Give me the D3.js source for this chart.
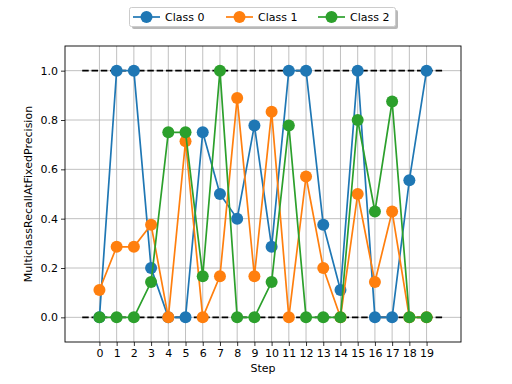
<!DOCTYPE html>
<html><head><meta charset="utf-8">
<script src="https://cdn.jsdelivr.net/npm/d3@7"></script>
<style>body{margin:0;background:#fff}svg{display:block;font-family:"DejaVu Sans",sans-serif}</style>
</head><body><svg id="c" width="512" height="384"></svg>
<script>
const steps = d3.range(0, 20);
const seriesNames = ["Class 0", "Class 1", "Class 2"];
const colors = ["#1f77b4", "#ff7f0e", "#2ca02c"];
const class0 = [0, 1, 1, 0.2, 0, 0, 0.75, 0.5, 0.4, 0.778, 0.286, 1, 1, 0.375, 0.111, 1, 0, 0, 0.556, 1];
const class1 = [0.111, 0.286, 0.286, 0.375, 0, 0.714, 0, 0.167, 0.889, 0.167, 0.833, 0, 0.571, 0.2, 0, 0.5, 0.143, 0.429, 0, 0];
const class2 = [0, 0, 0, 0.143, 0.75, 0.75, 0.167, 1, 0, 0, 0.143, 0.778, 0, 0, 0, 0.8, 0.429, 0.875, 0, 0];
const yTicks = [0, 0.2, 0.4, 0.6, 0.8, 1.0];
const refLines = [0, 1];
const allSeries = [class0, class1, class2];

const svg = d3.select("#c");
const L = 65, R = 461, T = 46, B = 342;
const x = d3.scaleLinear().domain([-2, 21]).range([L, R]);
const y = d3.scaleLinear().domain([-0.1, 1.1]).range([B, T]);

// grid
const g = svg.append("g");
g.selectAll(".vx").data(steps).enter().append("line")
  .attr("x1", d => x(d)).attr("x2", d => x(d)).attr("y1", T).attr("y2", B)
  .attr("stroke", "#b0b0b0").attr("stroke-width", 0.8);
g.selectAll(".hy").data(yTicks).enter().append("line")
  .attr("y1", d => y(d)).attr("y2", d => y(d)).attr("x1", L).attr("x2", R)
  .attr("stroke", "#b0b0b0").attr("stroke-width", 0.8);

// reference dashed lines
svg.selectAll(".ref").data(refLines).enter().append("line")
  .attr("x1", x(-1)).attr("x2", x(20)).attr("y1", d => y(d)).attr("y2", d => y(d))
  .attr("stroke", "#000").attr("stroke-width", 1.7).attr("stroke-dasharray", "6.5,2.8");

// series
allSeries.forEach((s, i) => {
  const line = d3.line().x((d, j) => x(steps[j])).y(d => y(d));
  svg.append("path").datum(s).attr("d", line).attr("fill", "none")
    .attr("stroke", colors[i]).attr("stroke-width", 1.7);
  svg.selectAll(".m" + i).data(s).enter().append("circle")
    .attr("cx", (d, j) => x(steps[j])).attr("cy", d => y(d)).attr("r", 6)
    .attr("fill", colors[i]);
});

// axes
const xAxis = d3.axisBottom(x).tickValues(steps).tickSize(4).tickPadding(3).tickFormat(d3.format("d"));
const yAxis = d3.axisLeft(y).tickValues(yTicks).tickSize(4).tickPadding(3).tickFormat(d3.format(".1f"));
const ax = svg.append("g").attr("transform", `translate(0,${B})`).call(xAxis);
const ay = svg.append("g").attr("transform", `translate(${L},0)`).call(yAxis);
[ax, ay].forEach(a => {
  a.select(".domain").remove();
  a.selectAll("text").attr("font-size", 11).attr("fill", "#000").attr("font-family", "DejaVu Sans");
  a.selectAll("line").attr("stroke", "#000").attr("stroke-width", 0.8);
});
svg.append("rect").attr("x", L).attr("y", T).attr("width", R - L).attr("height", B - T)
  .attr("fill", "none").attr("stroke", "#000").attr("stroke-width", 0.9);

svg.append("text").attr("x", (L + R) / 2).attr("y", 372).attr("text-anchor", "middle")
  .attr("font-size", 11).text("Step");
svg.append("text").attr("transform", `translate(32,${(T + B) / 2}) rotate(-90)`)
  .attr("text-anchor", "middle").attr("font-size", 11).text("MulticlassRecallAtFixedPrecision");

// legend
const lg = svg.append("g");
lg.append("rect").attr("x", 132).attr("y", 10).attr("width", 266).attr("height", 19).attr("rx", 2)
  .attr("fill", "#888").attr("opacity", 0.6);
lg.append("rect").attr("x", 129.5).attr("y", 7.5).attr("width", 266).attr("height", 19).attr("rx", 2)
  .attr("fill", "#fff").attr("stroke", "#ccc").attr("stroke-width", 1);
const lx = [133, 226, 318];
seriesNames.forEach((n, i) => {
  lg.append("line").attr("x1", lx[i]).attr("x2", lx[i] + 27).attr("y1", 17).attr("y2", 17)
    .attr("stroke", colors[i]).attr("stroke-width", 1.7);
  lg.append("circle").attr("cx", lx[i] + 13.5).attr("cy", 17).attr("r", 6).attr("fill", colors[i]);
  lg.append("text").attr("x", lx[i] + 32).attr("y", 21).attr("font-size", 11).text(n);
});
</script></body></html>
